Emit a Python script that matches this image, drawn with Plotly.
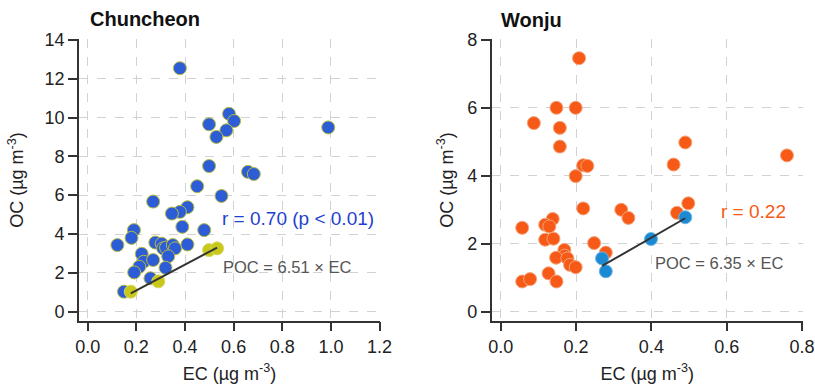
import numpy as np
import plotly.graph_objects as go

# ---------------- data ----------------
# Chuncheon: all samples (blue) and POC reference samples (yellow)
cc_ec = [0.379, 0.581, 0.602, 0.499, 0.570, 0.529, 0.989, 0.499, 0.659, 0.683,
         0.450, 0.550, 0.269, 0.410, 0.379, 0.346, 0.389, 0.479, 0.190, 0.180,
         0.122, 0.410, 0.278, 0.304, 0.310, 0.322, 0.350, 0.359, 0.222, 0.230,
         0.269, 0.331, 0.212, 0.320, 0.191, 0.258, 0.149]
cc_oc = [12.54, 10.19, 9.82, 9.65, 9.34, 9.00, 9.49, 7.50, 7.20, 7.09,
         6.46, 5.96, 5.67, 5.38, 5.14, 5.05, 4.37, 4.20, 4.20, 3.80,
         3.43, 3.46, 3.56, 3.50, 3.26, 3.30, 3.43, 3.26, 2.98, 2.57,
         2.66, 2.85, 2.31, 2.26, 2.02, 1.72, 1.03]
cc_ref_ec = [0.177, 0.290, 0.499, 0.532]
cc_ref_oc = [1.03, 1.56, 3.17, 3.26]

# Wonju: all samples (orange) and POC reference samples (blue)
wj_ec = [0.208, 0.148, 0.199, 0.088, 0.157, 0.157, 0.490, 0.760, 0.459, 0.219,
         0.230, 0.199, 0.219, 0.498, 0.468, 0.320, 0.339, 0.057, 0.138, 0.118,
         0.129, 0.118, 0.140, 0.248, 0.279, 0.169, 0.170, 0.147, 0.177, 0.184,
         0.199, 0.127, 0.057, 0.078, 0.148]
wj_oc = [7.46, 6.00, 6.00, 5.55, 5.41, 4.86, 4.98, 4.60, 4.33, 4.31,
         4.29, 3.99, 3.04, 3.19, 2.91, 3.00, 2.76, 2.47, 2.73, 2.56,
         2.51, 2.12, 2.15, 2.02, 1.74, 1.82, 1.65, 1.59, 1.57, 1.38,
         1.31, 1.13, 0.89, 0.96, 0.89]
wj_ref_ec = [0.269, 0.279, 0.399, 0.490]
wj_ref_oc = [1.57, 1.19, 2.14, 2.78]

cc_xticks = [0.0, 0.2, 0.4, 0.6, 0.8, 1.0, 1.2]
cc_yticks = [0, 2, 4, 6, 8, 10, 12, 14]
wj_xticks = [0.0, 0.2, 0.4, 0.6, 0.8]
wj_yticks = [0, 2, 4, 6, 8]

titles = ["Chuncheon", "Wonju"]
r_labels = ["r = 0.70 (p < 0.01)", "r = 0.22"]
poc_labels = ["POC = 6.51 × EC", "POC = 6.35 × EC"]

# ---------------- colours ----------------
C_BLUE = "#2c5cd6"
C_YEL = "#c8c81c"
C_ORG = "#f65a16"
C_LBLUE = "#1c8ad2"
FONT = "Liberation Sans, Arial, sans-serif"

def fit_line(x, y):
    x = np.asarray(x); y = np.asarray(y)
    k, b = np.polyfit(x, y, 1)
    xs = np.array([x.min(), x.max()])
    return xs, k * xs + b

fig = go.Figure()

# Chuncheon
fig.add_trace(go.Scatter(x=cc_ec, y=cc_oc, mode="markers", xaxis="x", yaxis="y",
                         marker=dict(size=13, color=C_BLUE, line=dict(color="#b8bc40", width=1)),
                         showlegend=False))
fig.add_trace(go.Scatter(x=cc_ref_ec, y=cc_ref_oc, mode="markers", xaxis="x", yaxis="y",
                         marker=dict(size=13, color=C_YEL, line=dict(color="#d8d860", width=1)),
                         showlegend=False))
lx, ly = fit_line(cc_ref_ec, cc_ref_oc)
fig.add_trace(go.Scatter(x=lx, y=ly, mode="lines", xaxis="x", yaxis="y",
                         line=dict(color="#333333", width=2), showlegend=False))

# Wonju
fig.add_trace(go.Scatter(x=wj_ec, y=wj_oc, mode="markers", xaxis="x2", yaxis="y2",
                         marker=dict(size=13, color=C_ORG, line=dict(color="#f3a47c", width=1)),
                         showlegend=False))
fig.add_trace(go.Scatter(x=wj_ref_ec, y=wj_ref_oc, mode="markers", xaxis="x2", yaxis="y2",
                         marker=dict(size=13, color=C_LBLUE, line=dict(color="#6fb6e4", width=1)),
                         showlegend=False))
lx, ly = fit_line(wj_ref_ec, wj_ref_oc)
fig.add_trace(go.Scatter(x=lx, y=ly, mode="lines", xaxis="x2", yaxis="y2",
                         line=dict(color="#333333", width=2), showlegend=False))

axis_common = dict(
    showgrid=True, gridcolor="#d2d2d2", griddash="dash", gridwidth=1,
    zeroline=False, showline=True, linecolor="#333333", linewidth=1.5,
    ticks="outside", ticklen=9, tickwidth=1.5, tickcolor="#333333",
    tickfont=dict(family=FONT, size=18, color="#222222"),
    automargin=False,
)
ytitle = "OC (µg m<sup>-3</sup>)"
xtitle = "EC (µg m<sup>-3</sup>)"
tfont = dict(family=FONT, size=18, color="#222222")

fig.update_layout(
    width=815, height=387,
    margin=dict(l=0, r=0, t=0, b=0),
    paper_bgcolor="white", plot_bgcolor="white",
    xaxis=dict(axis_common, domain=[0.0969, 0.4663], range=[-0.036, 1.202],
               tickvals=cc_xticks, ticktext=[f"{v:.1f}" for v in cc_xticks],
               title=dict(text=xtitle, font=tfont, standoff=11), anchor="y"),
    yaxis=dict(axis_common, domain=[0.1716, 0.898], range=[-0.46, 14.02],
               tickvals=cc_yticks, title=dict(text=ytitle, font=tfont, standoff=16), anchor="x"),
    xaxis2=dict(axis_common, domain=[0.6033, 0.9850], range=[-0.024, 0.802],
                tickvals=wj_xticks, ticktext=[f"{v:.1f}" for v in wj_xticks],
                title=dict(text=xtitle, font=tfont, standoff=11), anchor="y2"),
    yaxis2=dict(axis_common, domain=[0.1716, 0.898], range=[-0.26, 8.01],
                tickvals=wj_yticks, title=dict(text=ytitle, font=tfont, standoff=9), anchor="x2"),
)

annots = [
    dict(text=f"<b>{titles[0]}</b>", x=88, y=19, font=dict(family=FONT, size=20, color="#111111")),
    dict(text=f"<b>{titles[1]}</b>", x=499, y=20, font=dict(family=FONT, size=20, color="#111111")),
]
for a in annots:
    fig.add_annotation(text=a["text"], xref="paper", yref="paper",
                       x=a["x"] / 815, y=1 - a["y"] / 387, xanchor="left", yanchor="middle",
                       showarrow=False, font=a["font"])

fig.add_annotation(text=r_labels[0], xref="x", yref="y", x=0.543, y=4.8, xanchor="left",
                   yanchor="middle", showarrow=False, font=dict(family=FONT, size=19, color="#1f3fd0"))
fig.add_annotation(text=poc_labels[0], xref="x", yref="y", x=0.547, y=2.31, xanchor="left",
                   yanchor="middle", showarrow=False, font=dict(family=FONT, size=16.5, color="#555555"))
fig.add_annotation(text=r_labels[1], xref="x2", yref="y2", x=0.580, y=2.96, xanchor="left",
                   yanchor="middle", showarrow=False, font=dict(family=FONT, size=19, color=C_ORG))
fig.add_annotation(text=poc_labels[1], xref="x2", yref="y2", x=0.404, y=1.43, xanchor="left",
                   yanchor="middle", showarrow=False, font=dict(family=FONT, size=16.5, color="#555555"))

fig.write_html("out.html")
